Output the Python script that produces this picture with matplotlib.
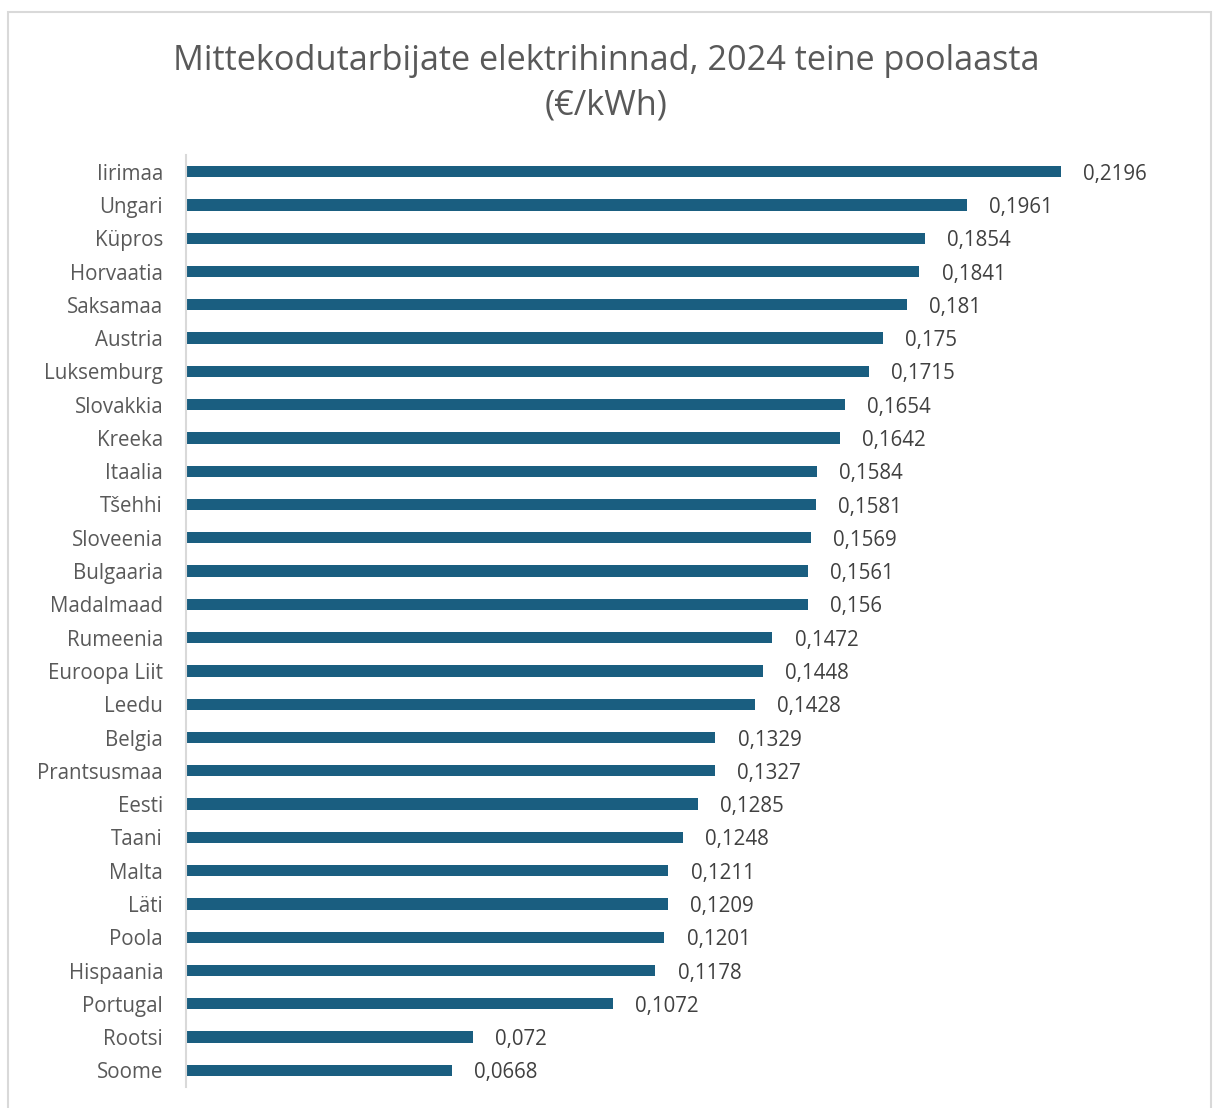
import matplotlib.pyplot as plt
from matplotlib.patches import Rectangle

# Mittekodutarbijate elektrihinnad, 2024 II poolaasta (€/kWh)
riigid = ['Iirimaa', 'Ungari', 'Küpros', 'Horvaatia', 'Saksamaa', 'Austria',
          'Luksemburg', 'Slovakkia', 'Kreeka', 'Itaalia', 'Tšehhi', 'Sloveenia',
          'Bulgaaria', 'Madalmaad', 'Rumeenia', 'Euroopa Liit', 'Leedu', 'Belgia',
          'Prantsusmaa', 'Eesti', 'Taani', 'Malta', 'Läti', 'Poola', 'Hispaania',
          'Portugal', 'Rootsi', 'Soome']
hinnad = [0.2196, 0.1961, 0.1854, 0.1841, 0.181, 0.175, 0.1715, 0.1654, 0.1642,
          0.1584, 0.1581, 0.1569, 0.1561, 0.156, 0.1472, 0.1448, 0.1428, 0.1329,
          0.1327, 0.1285, 0.1248, 0.1211, 0.1209, 0.1201, 0.1178, 0.1072, 0.072,
          0.0668]

plt.rcParams['font.family'] = ['Open Sans', 'DejaVu Sans']
tekst = '#595959'
riba = '#1A5E80'

fig = plt.figure(figsize=(12.13, 11.08), dpi=100)
fig.patches.append(Rectangle((8 / 1213, -0.01), 1203 / 1213, 1.0 - 12 / 1108 + 0.01,
                             transform=fig.transFigure, fill=False,
                             edgecolor='#D9D9D9', linewidth=1.5))

ax = fig.add_axes([186 / 1213, 1 - 1087 / 1108, 996 / 1213, 932 / 1108])
y = list(range(len(riigid)))
ax.barh(y, hinnad, height=0.34, color=riba)
ax.set_ylim(len(riigid) - 0.5, -0.5)
ax.set_xlim(0, 0.25)
ax.set_yticks(y)
ax.set_yticklabels(riigid, fontsize=14.8, color=tekst)
ax.tick_params(axis='y', length=0, pad=16.5)
ax.set_xticks([])
for side in ['top', 'right', 'bottom']:
    ax.spines[side].set_visible(False)
ax.spines['left'].set_color('#D9D9D9')
ax.spines['left'].set_linewidth(1.5)

for yi, v in zip(y, hinnad):
    ax.annotate(f'{v:g}'.replace('.', ','), xy=(v, yi), xytext=(16, 0),
                textcoords='offset points', va='center_baseline', ha='left',
                fontsize=14.8, color='#404040')

fig.text(0.5, 1 - 57 / 1108, 'Mittekodutarbijate elektrihinnad, 2024 teine poolaasta',
         ha='center', va='center_baseline', fontsize=24.7, color=tekst)
fig.text(0.5, 1 - 101 / 1108, '(€/kWh)', ha='center', va='center_baseline',
         fontsize=24.7, color=tekst)

fig.savefig('out.png', dpi=100, facecolor='white')
